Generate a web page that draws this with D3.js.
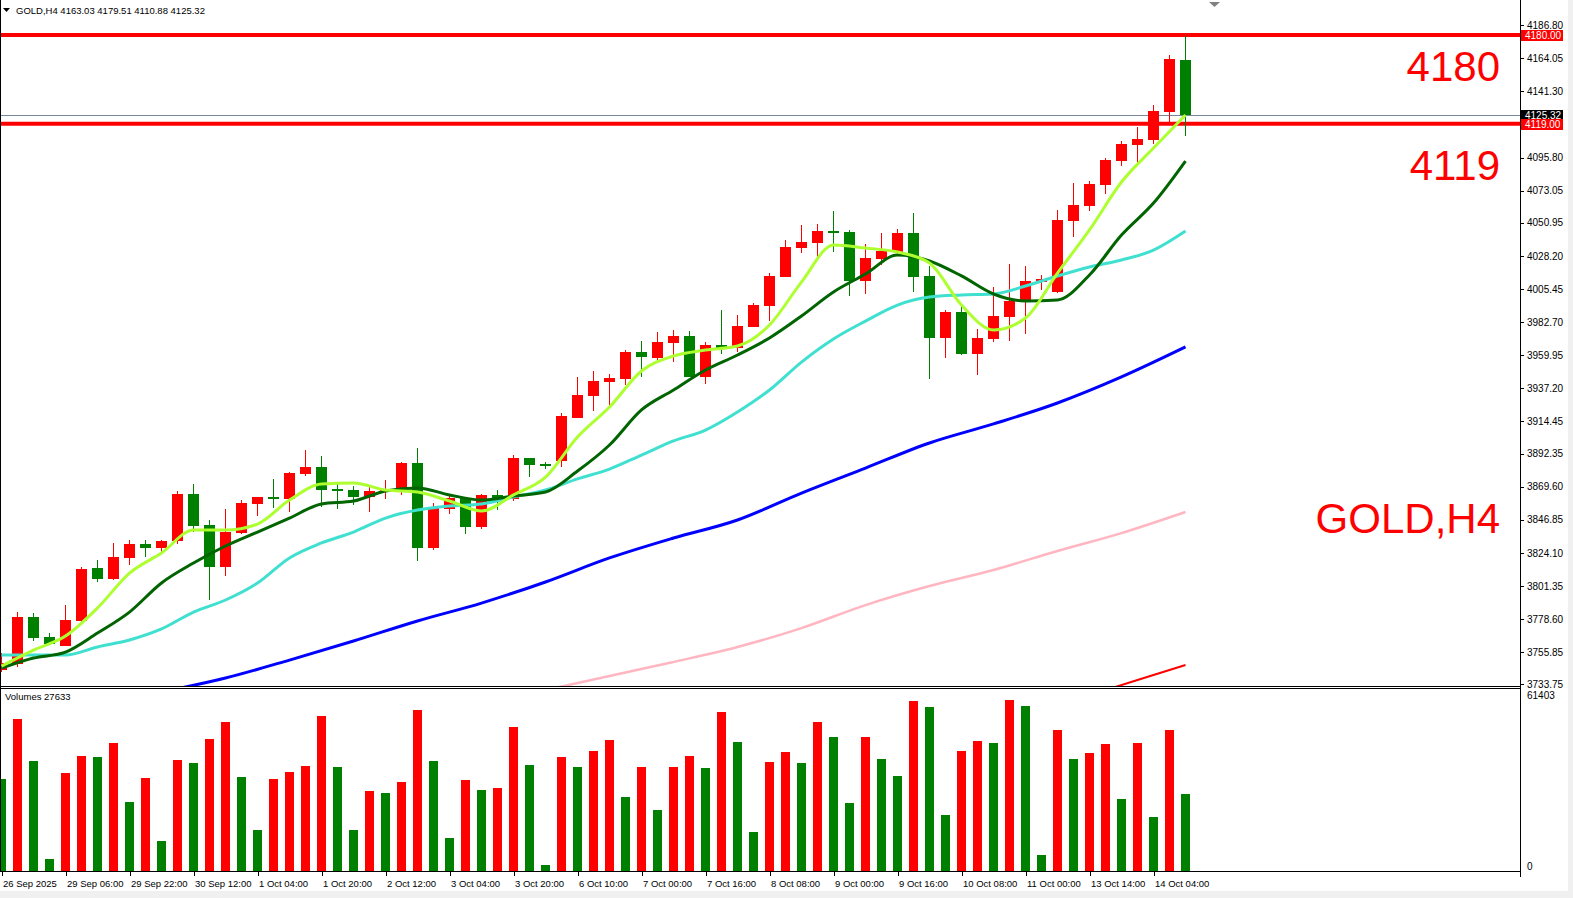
<!DOCTYPE html>
<html>
<head>
<meta charset="utf-8">
<script src="https://cdn.jsdelivr.net/npm/d3@7"></script>
<style>
body { margin: 0; background: #fff; }
svg { display: block; font-family: "Liberation Sans", Arial, sans-serif; }
.axis path, .axis line { stroke: #000; shape-rendering: crispEdges; }
.axis text { font-size: 10px; fill: #000; }
</style>
</head>
<body>
<div id="chart"></div>
<script>
// GOLD H4 candles, first one is cut by the left edge
var opens = [3743.6, 3747.9, 3780.0, 3766.3, 3760.3, 3777.3, 3813.7, 3806.3, 3820.8, 3830.2, 3827.6, 3832.4, 3864.5, 3843.2, 3814.6, 3837.9, 3857.9, 3862.5, 3861.3, 3878.5, 3883.1, 3867.9, 3867.3, 3862.7, 3866.1, 3867.5, 3885.8, 3827.6, 3854.4, 3861.8, 3842.1, 3863.9, 3861.3, 3889.3, 3885.4, 3887.4, 3916.9, 3932.0, 3941.7, 3943.8, 3962.1, 3958.2, 3968.5, 3973.1, 3945.2, 3966.9, 3965.1, 3979.5, 3993.9, 4013.9, 4033.8, 4037.3, 4045.3, 4044.6, 4011.1, 4026.2, 4031.1, 4043.9, 4014.4, 3972.0, 3989.6, 3961.0, 3971.3, 3986.4, 3996.7, 4010.4, 4003.6, 4052.4, 4062.7, 4077.1, 4093.6, 4104.6, 4108.1, 4127.3, 4163.03];
var highs = [3755.3, 3783.6, 3782.8, 3769.0, 3788.2, 3814.4, 3819.2, 3830.9, 3832.9, 3832.9, 3832.9, 3866.6, 3871.6, 3846.7, 3854.2, 3860.4, 3862.8, 3874.8, 3879.4, 3894.8, 3890.7, 3871.4, 3870.0, 3870.0, 3874.1, 3886.5, 3896.2, 3858.4, 3863.9, 3862.5, 3864.5, 3867.3, 3891.4, 3889.5, 3886.7, 3920.2, 3944.9, 3949.1, 3947.0, 3963.5, 3969.7, 3975.9, 3977.3, 3976.6, 3969.0, 3991.0, 3987.6, 3995.8, 4016.4, 4039.1, 4049.4, 4050.1, 4059.1, 4046.0, 4036.4, 4043.9, 4046.7, 4057.7, 4021.2, 3991.0, 3994.4, 3977.9, 4006.8, 4022.6, 4021.2, 4015.1, 4059.7, 4078.3, 4079.7, 4095.5, 4107.2, 4116.8, 4131.9, 4166.3, 4179.51];
var lows = [3742.2, 3745.8, 3763.7, 3761.0, 3760.0, 3776.8, 3804.3, 3805.6, 3815.9, 3821.4, 3824.9, 3830.4, 3838.6, 3791.9, 3808.4, 3837.3, 3849.6, 3855.1, 3852.4, 3877.1, 3855.8, 3854.4, 3857.2, 3852.4, 3861.3, 3864.1, 3818.7, 3826.3, 3850.9, 3837.3, 3840.7, 3853.8, 3859.9, 3876.4, 3881.9, 3883.3, 3916.7, 3921.8, 3925.9, 3939.7, 3945.2, 3956.8, 3955.5, 3944.9, 3940.3, 3961.0, 3962.3, 3979.2, 3983.6, 4013.7, 4030.4, 4025.6, 4031.1, 4000.8, 4002.2, 4022.1, 4029.0, 4003.6, 3943.8, 3958.2, 3960.3, 3946.5, 3969.2, 3969.9, 3974.7, 4004.9, 4002.9, 4041.4, 4059.3, 4070.9, 4090.2, 4090.2, 4105.3, 4120.4, 4110.88];
var closes = [3748.4, 3780.0, 3765.8, 3761.7, 3777.9, 3813.0, 3806.3, 3821.2, 3830.2, 3827.6, 3832.2, 3864.5, 3842.8, 3814.6, 3838.4, 3858.4, 3862.5, 3861.3, 3879.0, 3883.1, 3867.5, 3867.1, 3862.7, 3866.6, 3868.0, 3885.8, 3827.6, 3854.9, 3861.8, 3842.1, 3863.9, 3861.3, 3889.3, 3884.7, 3884.0, 3918.1, 3932.5, 3942.2, 3944.3, 3962.1, 3958.9, 3969.0, 3973.1, 3945.2, 3966.9, 3965.1, 3980.0, 3994.4, 4014.4, 4034.3, 4037.7, 4045.3, 4044.1, 4011.1, 4026.7, 4031.6, 4043.9, 4013.9, 3972.0, 3989.6, 3961.0, 3972.0, 3986.9, 3997.2, 4010.9, 4012.3, 4052.9, 4063.2, 4077.6, 4094.1, 4105.1, 4108.5, 4127.8, 4163.5, 4125.32];
var volumes = [33100, 54600, 39500, 4300, 35200, 41300, 40900, 46000, 24800, 33400, 10800, 39900, 38800, 47400, 53500, 33800, 14700, 33000, 35600, 37700, 55700, 37300, 14700, 28700, 28000, 32000, 57800, 39500, 11900, 32700, 29100, 29800, 51700, 38100, 2200, 40900, 37300, 43100, 47000, 26600, 37300, 21900, 37300, 41300, 37000, 57100, 46300, 14000, 39100, 42700, 38800, 53500, 48100, 24400, 48100, 40200, 34100, 61000, 58900, 20100, 43100, 46700, 46000, 61403, 59300, 5700, 50600, 40200, 42400, 45600, 25900, 46000, 19400, 50600, 27633];

// moving averages, read every 2nd / 4th bar
var maFast = [3746.3, 3757.3, 3766.9, 3786.2, 3810.2, 3824.0, 3839.8, 3839.8, 3843.9, 3860.4, 3871.4, 3872.1, 3867.3, 3865.9, 3859.7, 3852.9, 3863.9, 3876.2, 3903.7, 3924.3, 3949.1, 3959.4, 3963.5, 3966.3, 3980.7, 4010.2, 4035.7, 4033.6, 4030.9, 4023.3, 3994.4, 3977.3, 3985.5, 4016.4, 4046.0, 4079.0, 4102.3, 4125.0];
var maMid = [3744.9, 3751.8, 3755.9, 3769.0, 3783.4, 3803.4, 3817.1, 3828.8, 3838.4, 3848.0, 3857.7, 3859.7, 3866.6, 3868.7, 3863.9, 3860.4, 3863.2, 3865.9, 3880.3, 3898.2, 3922.3, 3936.0, 3949.8, 3960.1, 3971.8, 3986.9, 4003.4, 4015.7, 4028.8, 4024.7, 4014.4, 4002.0, 3997.2, 3997.9, 4015.1, 4042.5, 4064.5, 4093.4];
var maSlow = [3753.9, 3753.9, 3753.9, 3759.4, 3764.2, 3771.8, 3783.4, 3791.7, 3803.4, 3820.6, 3830.9, 3838.4, 3848.0, 3853.5, 3856.3, 3857.7, 3862.5, 3867.3, 3874.9, 3881.7, 3891.3, 3901.0, 3908.5, 3920.9, 3936.0, 3955.2, 3971.1, 3983.4, 3994.4, 3999.9, 4001.3, 4002.0, 4007.5, 4014.4, 4020.6, 4025.4, 4032.2, 4045.3];
var maBlue = [3728.5, 3738.1, 3750.4, 3763.5, 3777.3, 3789.6, 3804.1, 3820.6, 3834.3, 3846.7, 3865.2, 3882.4, 3899.6, 3912.7, 3927.1, 3945.0, 3965.6];
var maPink = [3729.8, 3739.5, 3749.1, 3759.4, 3772.4, 3788.2, 3801.3, 3812.3, 3825.4, 3837.7, 3852.2];
var maRed = [3729.8, 3736.7, 3747.0];
var maRedIdx = [69, 71, 74];

var priceTicks = [4186.80, 4164.05, 4141.30, 4095.80, 4073.05, 4050.95, 4028.20, 4005.45, 3982.70, 3959.95, 3937.20, 3914.45, 3892.35, 3869.60, 3846.85, 3824.10, 3801.35, 3778.60, 3755.85, 3733.75];
var timeIdx = [0, 4, 8, 12, 16, 20, 24, 28, 32, 36, 40, 44, 48, 52, 56, 60, 64, 68, 72];
var timeLabels = ['26 Sep 2025', '29 Sep 06:00', '29 Sep 22:00', '30 Sep 12:00', '1 Oct 04:00', '1 Oct 20:00', '2 Oct 12:00', '3 Oct 04:00', '3 Oct 20:00', '6 Oct 10:00', '7 Oct 00:00', '7 Oct 16:00', '8 Oct 08:00', '9 Oct 00:00', '9 Oct 16:00', '10 Oct 08:00', '11 Oct 00:00', '13 Oct 14:00', '14 Oct 04:00'];
var levels = [4180, 4119];
var bid = 4125.32;

var width = 1573,
	height = 898,
	plotRight = 1520,
	mainBottom = 686,
	volTop = 690,
	volBottom = 871;

var upColor = '#ff0000',
	downColor = '#008000';

var x = d3.scaleLinear().domain([0, 74]).range([1.5, 1185.5]);
var y = d3.scaleLinear().domain([3732.6, 4204.05]).range([mainBottom, 0]);
var yVol = d3.scaleLinear().domain([0, 61403]).range([volBottom, 700]);

var candles = opens.map(function(o, i) {
	return {i: i, o: o, h: highs[i], l: lows[i], c: closes[i]};
});

var svg = d3.select('#chart').append('svg')
	.attr('width', width)
	.attr('height', height);

svg.append('rect').attr('width', width).attr('height', height).attr('fill', '#fff');
svg.append('rect').attr('x', 0).attr('y', 891).attr('width', width).attr('height', 7).attr('fill', '#f0f0f0');
svg.append('rect').attr('x', 1568).attr('y', 0).attr('width', 5).attr('height', height).attr('fill', '#f0f0f0');

var defs = svg.append('defs');
defs.append('clipPath').attr('id', 'clipMain')
	.append('rect').attr('x', 0).attr('y', 0).attr('width', plotRight).attr('height', mainBottom);
defs.append('clipPath').attr('id', 'clipVol')
	.append('rect').attr('x', 0).attr('y', volTop).attr('width', plotRight).attr('height', volBottom - volTop);

var main = svg.append('g').attr('clip-path', 'url(#clipMain)');

// level lines
main.selectAll('.level')
	.data(levels)
	.enter().append('line')
	.attr('class', 'level')
	.attr('x1', 0).attr('x2', plotRight)
	.attr('y1', function(d) { return y(d); })
	.attr('y2', function(d) { return y(d); })
	.attr('stroke', '#ff0000')
	.attr('stroke-width', 4);

main.append('line')
	.attr('x1', 0).attr('x2', plotRight)
	.attr('y1', Math.round(y(bid)) + 0.5).attr('y2', Math.round(y(bid)) + 0.5)
	.attr('stroke', '#778899')
	.attr('stroke-width', 1);

// candles
var cg = main.selectAll('.candle')
	.data(candles)
	.enter().append('g')
	.attr('class', 'candle');

cg.append('line')
	.attr('x1', function(d) { return x(d.i); })
	.attr('x2', function(d) { return x(d.i); })
	.attr('y1', function(d) { return Math.round(y(d.h)); })
	.attr('y2', function(d) { return Math.round(y(d.l)); })
	.attr('stroke', function(d) { return d.c >= d.o ? upColor : downColor; })
	.attr('stroke-width', 1);

cg.append('rect')
	.attr('x', function(d) { return x(d.i) - 5.5; })
	.attr('width', 11)
	.attr('y', function(d) { return Math.round(y(Math.max(d.o, d.c))); })
	.attr('height', function(d) { return Math.max(2, Math.round(Math.abs(y(d.o) - y(d.c)))); })
	.attr('fill', function(d) { return d.c >= d.o ? upColor : downColor; });

// moving averages
var line = d3.line()
	.curve(d3.curveMonotoneX)
	.x(function(d) { return x(d[0]); })
	.y(function(d) { return y(d[1]); });

function pairs(values, start, step) {
	return values.map(function(v, i) { return [start + i * step, v]; });
}

var maSeries = [
	{data: pairs(maPink, 34, 4), color: '#ffb6c1', w: 2.5},
	{data: maRed.map(function(v, i) { return [maRedIdx[i], v]; }), color: '#ff0000', w: 2},
	{data: pairs(maBlue, 10, 4), color: '#0000ff', w: 3},
	{data: pairs(maSlow, 0, 2), color: '#40e0d0', w: 3},
	{data: pairs(maMid, 0, 2), color: '#006400', w: 3},
	{data: pairs(maFast, 0, 2), color: '#adff2f', w: 3}
];

main.selectAll('.ma')
	.data(maSeries)
	.enter().append('path')
	.attr('class', 'ma')
	.attr('d', function(d) { return line(d.data); })
	.attr('fill', 'none')
	.attr('stroke', function(d) { return d.color; })
	.attr('stroke-width', function(d) { return d.w; });

// big annotations
var notes = [
	{t: '4180', y: 81},
	{t: '4119', y: 180},
	{t: 'GOLD,H4', y: 533}
];
svg.selectAll('.note')
	.data(notes)
	.enter().append('text')
	.attr('class', 'note')
	.attr('x', 1500)
	.attr('y', function(d) { return d.y; })
	.attr('text-anchor', 'end')
	.attr('fill', '#ff0000')
	.style('font-size', '42px')
	.text(function(d) { return d.t; });

// header
svg.append('path')
	.attr('d', 'M3,8 L10,8 L6.5,12 Z')
	.attr('fill', '#000');
svg.append('text')
	.attr('x', 16).attr('y', 14)
	.style('font-size', '9.5px')
	.text('GOLD,H4  4163.03 4179.51 4110.88 4125.32');
svg.append('path')
	.attr('d', 'M1209,2 L1220,2 L1214.5,7 Z')
	.attr('fill', '#808080');

// volumes
var vol = svg.append('g').attr('clip-path', 'url(#clipVol)');
vol.selectAll('.vbar')
	.data(volumes)
	.enter().append('rect')
	.attr('class', 'vbar')
	.attr('x', function(d, i) { return x(i) - 4.5; })
	.attr('width', 9)
	.attr('y', function(d) { return Math.round(yVol(d)); })
	.attr('height', function(d) { return volBottom - Math.round(yVol(d)); })
	.attr('fill', function(d, i) { return i > 0 && d > volumes[i - 1] ? upColor : downColor; });

svg.append('text')
	.attr('x', 5).attr('y', 700)
	.style('font-size', '9.5px')
	.text('Volumes ' + volumes[volumes.length - 1]);

// frames
var frame = svg.append('g').attr('stroke', '#000').attr('shape-rendering', 'crispEdges');
frame.append('line').attr('x1', 0.5).attr('x2', 0.5).attr('y1', 0).attr('y2', volBottom);
frame.append('line').attr('x1', 0).attr('x2', plotRight).attr('y1', mainBottom + 0.5).attr('y2', mainBottom + 0.5);
frame.append('line').attr('x1', 0).attr('x2', plotRight).attr('y1', volTop - 1.5).attr('y2', volTop - 1.5);
frame.append('line').attr('x1', 0).attr('x2', plotRight).attr('y1', volBottom + 0.5).attr('y2', volBottom + 0.5);

// price axis
var yAxis = svg.append('g')
	.attr('class', 'axis')
	.attr('transform', 'translate(' + plotRight + ',0)')
	.call(d3.axisRight(y).tickValues(priceTicks).tickSize(4).tickPadding(3).tickFormat(d3.format('.2f')));
yAxis.select('.domain').attr('d', 'M0.5,0V' + (volBottom + 6));

var volAxis = svg.append('g')
	.attr('class', 'axis')
	.attr('transform', 'translate(' + plotRight + ',0)')
	.call(d3.axisRight(yVol).tickValues([0, 61403]).tickSize(0).tickPadding(7).tickFormat(d3.format('d')));
volAxis.select('.domain').remove();
volAxis.selectAll('text').attr('dy', '-2px');

// level and bid labels
var tags = [
	{v: levels[0], bg: '#ff0000'},
	{v: bid, bg: '#000000'},
	{v: levels[1], bg: '#ff0000'}
];
var tg = svg.selectAll('.tag')
	.data(tags)
	.enter().append('g')
	.attr('class', 'tag')
	.attr('transform', function(d) { return 'translate(' + (plotRight + 1) + ',' + Math.round(y(d.v)) + ')'; });
tg.append('rect')
	.attr('x', 0).attr('y', -5).attr('width', 42).attr('height', 11)
	.attr('fill', function(d) { return d.bg; });
tg.append('text')
	.attr('x', 4).attr('y', 4)
	.attr('fill', '#fff')
	.style('font-size', '10px')
	.text(function(d) { return d3.format('.2f')(d.v); });

// time axis
var xAxis = svg.append('g')
	.attr('class', 'axis')
	.attr('transform', 'translate(0,' + (volBottom + 1) + ')')
	.call(d3.axisBottom(x).tickValues(timeIdx).tickSize(4).tickPadding(4).tickFormat(function(d, i) { return timeLabels[i]; }));
xAxis.select('.domain').remove();
xAxis.selectAll('text').attr('text-anchor', 'start').attr('x', 1).style('font-size', '9.5px');
</script>
</body>
</html>
